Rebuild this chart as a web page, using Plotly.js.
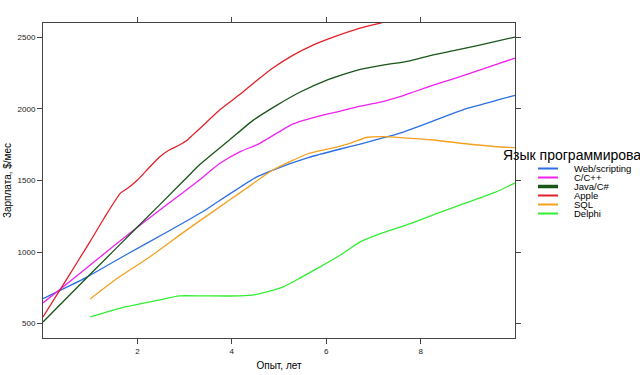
<!DOCTYPE html>
<html>
<head>
<meta charset="utf-8">
<script src="https://cdn.plot.ly/plotly-3.0.1.min.js"></script>
<style>html,body{margin:0;padding:0;background:#fff;}#chart{width:640px;height:375px;}</style>
</head>
<body>
<div id="chart"></div>
<script>
// ---- data ----
var languages = ["Web/scripting", "C/C++", "Java/C#", "Apple", "SQL", "Delphi"];

var webX = [0, 0.9, 1.75, 2.6, 3.4, 3.75, 4.2, 4.53, 4.87, 5.6, 6.3, 6.7, 7.2, 7.6, 8.3, 9.0, 9.7, 10];
var webY = [675, 820, 980, 1135, 1285, 1362, 1458, 1525, 1573, 1658, 1720, 1752, 1797, 1835, 1920, 2005, 2068, 2095];

var ccX = [0, 0.7, 1.85, 2.6, 3.3, 3.75, 4.2, 4.55, 4.75, 5.3, 5.9, 6.3, 6.7, 7.15, 7.65, 7.85, 8.4, 8.95, 9.45, 10];
var ccY = [645, 830, 1135, 1325, 1500, 1620, 1705, 1752, 1790, 1895, 1955, 1985, 2018, 2048, 2095, 2118, 2180, 2237, 2293, 2355];

var javaX = [0, 1, 2, 3, 3.3, 3.95, 4.45, 4.95, 5.45, 6.0, 6.45, 6.7, 7.2, 7.75, 8.25, 8.75, 9.25, 10];
var javaY = [512, 845, 1175, 1505, 1605, 1783, 1920, 2025, 2118, 2200, 2250, 2275, 2306, 2334, 2376, 2411, 2446, 2502];

var appleX = [0, 0.5, 1.0, 1.3, 1.64, 1.8, 2.0, 2.26, 2.47, 2.64, 2.89, 3.06, 3.17, 3.38, 3.74, 4.21, 4.49, 4.87, 5.3, 5.72, 6.15, 6.72, 7.15, 7.6];
var appleY = [547, 810, 1075, 1240, 1412, 1447, 1503, 1594, 1664, 1706, 1748, 1783, 1817, 1880, 1992, 2111, 2188, 2286, 2376, 2446, 2502, 2565, 2600, 2640];

var sqlX = [1.0, 1.53, 2.26, 2.96, 3.38, 3.96, 4.32, 4.87, 5.6, 6.3, 6.55, 6.87, 7.2, 7.57, 8.28, 9.0, 9.7, 10];
var sqlY = [673, 807, 966, 1134, 1232, 1365, 1448, 1573, 1685, 1740, 1765, 1802, 1806, 1800, 1783, 1755, 1734, 1730];

var delphiX = [1.0, 1.74, 2.47, 2.89, 3.38, 4.17, 4.5, 4.74, 5.09, 5.45, 5.87, 6.3, 6.72, 7.19, 7.83, 8.38, 8.96, 9.6, 10];
var delphiY = [547, 617, 666, 694, 694, 694, 703, 722, 757, 820, 897, 980, 1071, 1134, 1204, 1274, 1343, 1420, 1483];

var xTicks = [2, 4, 6, 8];
var yTicks = [500, 1000, 1500, 2000, 2500];

// ---- styles ----
var colors = ["#2b6fe0", "#f020f0", "#1a551a", "#e2202a", "#f5a020", "#33ee33"];
var widths = [1.3, 1.3, 1.3, 1.3, 1.3, 1.3];
var legendWidths = [2, 2, 3.5, 2, 2, 2];

var xs = [webX, ccX, javaX, appleX, sqlX, delphiX];
var ys = [webY, ccY, javaY, appleY, sqlY, delphiY];

var traces = languages.map(function (name, i) {
  return {
    type: "scatter", mode: "lines", name: name,
    x: xs[i], y: ys[i],
    line: {color: colors[i], width: widths[i], shape: "spline", smoothing: 0.5},
    hoverinfo: "skip", showlegend: false
  };
});

// plot area in px: left 43, right 515, top 23, bottom 338
var L = 43, R = 515, T = 23, B = 338, W = R - L, H = B - T;
function px2x(p) { return (p - L) / W; }
function px2y(p) { return (B - p) / H; }

var annotations = [{
  text: "Язык программирования", xref: "paper", yref: "paper",
  x: px2x(501), y: px2y(155), xanchor: "left", yanchor: "middle",
  showarrow: false, font: {family: "Liberation Sans, Arial, sans-serif", size: 14, color: "#000"}
}];
var shapes = [];
languages.forEach(function (name, i) {
  var py = 168.5 + 9 * i;
  shapes.push({type: "line", xref: "paper", yref: "paper",
    x0: px2x(538), x1: px2x(558), y0: px2y(py), y1: px2y(py),
    line: {color: colors[i], width: legendWidths[i]}});
  annotations.push({text: name, xref: "paper", yref: "paper",
    x: px2x(573), y: px2y(py), xanchor: "left", yanchor: "middle",
    showarrow: false, borderpad: 0,
    font: {family: "Liberation Sans, Arial, sans-serif", size: 9.5, color: "#000"}});
});

var axisCommon = {
  showgrid: false, zeroline: false, showline: true, linecolor: "#444", linewidth: 1,
  mirror: "allticks", ticks: "outside", ticklen: 5, tickwidth: 1, tickcolor: "#444",
  tickfont: {family: "Liberation Sans, Arial, sans-serif", size: 8, color: "#222"}
};

var layout = {
  width: 640, height: 375,
  margin: {l: L, r: 640 - R, t: T, b: 375 - B, pad: 0},
  paper_bgcolor: "#fff", plot_bgcolor: "#fff",
  font: {family: "Liberation Sans, Arial, sans-serif", color: "#000"},
  showlegend: false,
  xaxis: Object.assign({}, axisCommon, {
    range: [0, 10], tickvals: xTicks, ticktext: xTicks.map(String),
    title: {text: "Опыт, лет", font: {size: 10, color: "#000"}, standoff: 7}
  }),
  yaxis: Object.assign({}, axisCommon, {
    range: [400, 2600], tickvals: yTicks, ticktext: yTicks.map(String),
    title: {text: "Зарплата, $/мес", font: {size: 10, color: "#000"}, standoff: 4}
  }),
  annotations: annotations,
  shapes: shapes
};

Plotly.newPlot("chart", traces, layout, {staticPlot: true, displayModeBar: false});
</script>
</body>
</html>
